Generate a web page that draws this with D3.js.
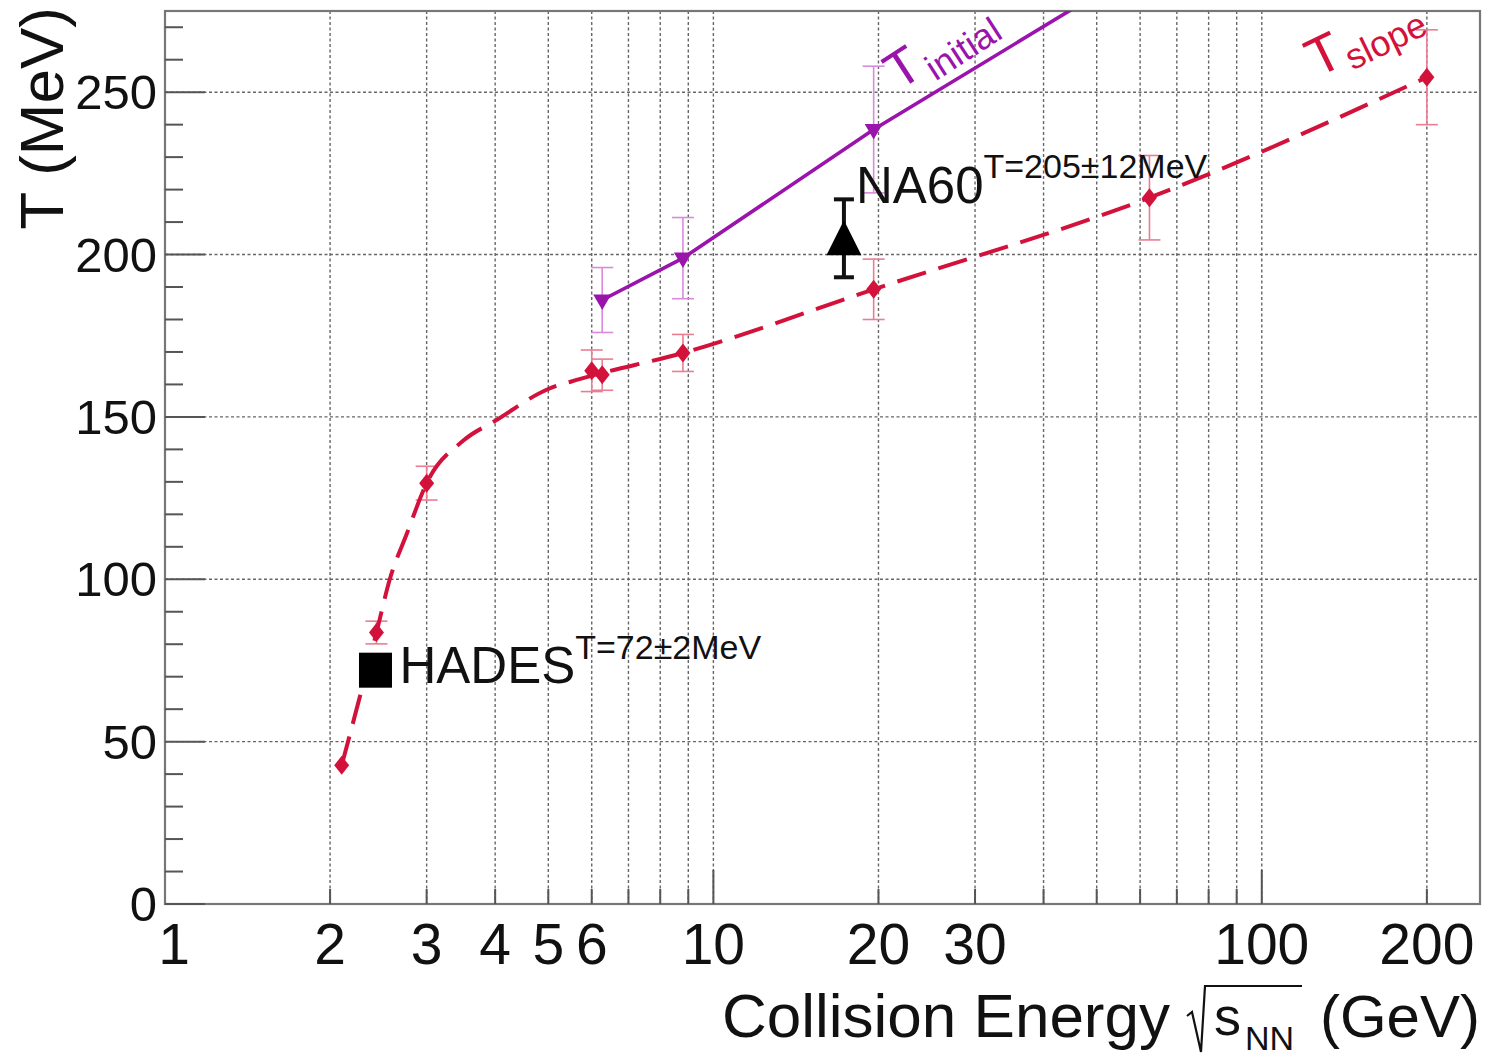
<!DOCTYPE html>
<html>
<head>
<meta charset="utf-8">
<script src="https://cdn.jsdelivr.net/npm/d3@7"></script>
<style>
  body { margin: 0; background: #fff; }
  text { font-family: "Liberation Sans", Arial, Helvetica, sans-serif; }
</style>
</head>
<body>
<svg id="chart" width="1489" height="1056"></svg>
<script>
// ---- data ----
// T_slope measurements (sqrt(s_NN) in GeV, T in MeV)
const slopeEnergy = [2.1, 2.43, 3.0, 6.0, 6.27, 8.8, 19.6, 62.4, 200];
const slopeT      = [42.7, 83.6, 129.6, 164.2, 163.0, 169.7, 189.3, 217.5, 254.6];
const slopeErr    = [0, 3.5, 5.2, 6.4, 4.8, 5.7, 9.3, 13.0, 14.6];

// dashed T_slope trend curve
const slopeCurveEnergy = [2.1, 2.43, 2.57, 2.76, 3.0, 3.5, 4.0, 5.0, 5.72, 8.8, 19.6, 62.4, 200];
const slopeCurveT      = [42.7, 83.6, 100, 114, 129.6, 142.7, 148.8, 158.6, 161.7, 169.7, 189.3, 217.5, 254.6];

// T_initial
const initialEnergy = [6.27, 8.8, 19.6, 62.4];
const initialT      = [186.0, 198.9, 238.5, 290.0];
const initialErr    = [10.0, 12.5, 19.5, 0];

// single experiments
const na60Energy = [17.3];
const na60T      = [205];
const na60Err    = [12];

const hadesEnergy = [2.42];
const hadesT      = [72];
const hadesErr    = [2];

// axes
const xTickLabels = [1, 2, 3, 4, 5, 6, 10, 20, 30, 100, 200];
const xMinorTicks = [2, 3, 4, 5, 6, 7, 8, 9, 20, 30, 40, 50, 60, 70, 80, 90, 200];
const xMajorTicks = [10, 100];
const yTickLabels = [0, 50, 100, 150, 200, 250];

// ---- layout ----
const svg = d3.select("#chart");
const L = 165, R = 1480, T = 11, B = 904;

const x = d3.scaleLog().domain([1, 250]).range([L, R]);
const y = d3.scaleLinear().domain([0, 275]).range([B, T]);

const red = "#d3123c", redErr = "#ea7d92";
const purple = "#9a14ac", purpleErr = "#d98ade";

svg.append("rect").attr("width", 1489).attr("height", 1056).attr("fill", "#fff");

svg.append("defs").append("clipPath").attr("id", "plotClip")
  .append("rect").attr("x", L).attr("y", T).attr("width", R - L).attr("height", B - T);

// ---- grid ----
const grid = svg.append("g").attr("stroke", "#666").attr("stroke-width", 1.4)
  .attr("stroke-dasharray", "3,2.5");
grid.selectAll("line.gx").data(xMinorTicks.concat(xMajorTicks)).join("line")
  .attr("x1", d => x(d)).attr("x2", d => x(d)).attr("y1", T).attr("y2", B);
grid.selectAll("line.gy").data(yTickLabels.filter(v => v > 0)).join("line")
  .attr("x1", L).attr("x2", R).attr("y1", d => y(d)).attr("y2", d => y(d));

// ---- frame ----
svg.append("rect").attr("x", L).attr("y", T).attr("width", R - L).attr("height", B - T)
  .attr("fill", "none").attr("stroke", "#777").attr("stroke-width", 2.2);

// ---- ticks ----
const ticks = svg.append("g").attr("stroke", "#555").attr("stroke-width", 2);
ticks.selectAll("line.ym").data(y.ticks(27)).join("line")
  .attr("x1", L).attr("y1", d => y(d)).attr("y2", d => y(d))
  .attr("x2", d => L + (d % 50 === 0 ? 40 : 18));
ticks.selectAll("line.xm").data(xMinorTicks).join("line")
  .attr("x1", d => x(d)).attr("x2", d => x(d)).attr("y1", B).attr("y2", B - 15);
ticks.selectAll("line.xM").data(xMajorTicks).join("line")
  .attr("x1", d => x(d)).attr("x2", d => x(d)).attr("y1", B).attr("y2", B - 34);

// ---- tick labels ----
svg.append("g").selectAll("text").data(yTickLabels).join("text")
  .attr("x", L - 8).attr("y", d => y(d) + 17)
  .attr("text-anchor", "end").attr("font-size", 49).attr("fill", "#111")
  .text(d => d);
// the first label is nudged right so it stays clear of the y labels
svg.append("g").selectAll("text").data(xTickLabels).join("text")
  .attr("x", d => Math.max(x(d), L + 9)).attr("y", 964)
  .attr("text-anchor", "middle").attr("font-size", 57).attr("fill", "#111")
  .text(d => d);

// ---- axis titles ----
svg.append("text").attr("transform", "translate(63,7) rotate(-90)")
  .attr("text-anchor", "end").attr("font-size", 62).attr("fill", "#111")
  .text("T (MeV)");

const xt = svg.append("g").attr("fill", "#111");
xt.append("text").attr("x", 722).attr("y", 1037).attr("font-size", 62).text("Collision Energy");
xt.append("path").attr("d", "M1187,1016 L1192,1012 L1201,1052 L1205,986 L1302,986")
  .attr("fill", "none").attr("stroke", "#111").attr("stroke-width", 2.2);
xt.append("text").attr("x", 1214).attr("y", 1035).attr("font-size", 54).text("s");
xt.append("text").attr("x", 1245).attr("y", 1050).attr("font-size", 34).text("NN");
xt.append("text").attr("x", 1480).attr("y", 1037).attr("text-anchor", "end")
  .attr("font-size", 60).text("(GeV)");

// ---- data layer ----
const plot = svg.append("g").attr("clip-path", "url(#plotClip)");

function errorBars(g, ex, ey, ee, color, width, cap) {
  const d = ex.map((e, i) => ({ e, t: ey[i], s: ee[i] })).filter(p => p.s > 0);
  const eg = g.append("g").attr("stroke", color).attr("stroke-width", width);
  eg.selectAll("line.v").data(d).join("line")
    .attr("x1", p => x(p.e)).attr("x2", p => x(p.e))
    .attr("y1", p => y(p.t + p.s)).attr("y2", p => y(p.t - p.s));
  eg.selectAll("line.hi").data(d).join("line")
    .attr("x1", p => x(p.e) - cap).attr("x2", p => x(p.e) + cap)
    .attr("y1", p => y(p.t + p.s)).attr("y2", p => y(p.t + p.s));
  eg.selectAll("line.lo").data(d).join("line")
    .attr("x1", p => x(p.e) - cap).attr("x2", p => x(p.e) + cap)
    .attr("y1", p => y(p.t - p.s)).attr("y2", p => y(p.t - p.s));
}

errorBars(plot, slopeEnergy, slopeT, slopeErr, redErr, 1.6, 11);
errorBars(plot, initialEnergy, initialT, initialErr, purpleErr, 1.6, 11);

// T_slope dashed curve
const curve = d3.line().x(d => x(d[0])).y(d => y(d[1])).curve(d3.curveMonotoneX);
plot.append("path")
  .attr("d", curve(slopeCurveEnergy.map((e, i) => [e, slopeCurveT[i]])))
  .attr("fill", "none").attr("stroke", red).attr("stroke-width", 4)
  .attr("stroke-dasharray", "30,13");

// T_initial solid line
const straight = d3.line().x(d => x(d[0])).y(d => y(d[1]));
plot.append("path")
  .attr("d", straight(initialEnergy.map((e, i) => [e, initialT[i]])))
  .attr("fill", "none").attr("stroke", purple).attr("stroke-width", 3.6);

// markers
plot.selectAll("path.diamond").data(slopeEnergy.map((e, i) => [e, slopeT[i]])).join("path")
  .attr("transform", d => `translate(${x(d[0])},${y(d[1])})`)
  .attr("d", "M0,-9.5 L7.5,0 L0,9.5 L-7.5,0 Z").attr("fill", red);

plot.selectAll("path.tdown").data(initialEnergy.map((e, i) => [e, initialT[i]])).join("path")
  .attr("transform", d => `translate(${x(d[0])},${y(d[1])})`)
  .attr("d", "M-9,-5.5 L9,-5.5 L0,10 Z").attr("fill", purple);

// NA60
errorBars(plot, na60Energy, na60T, na60Err, "#111", 4, 10);
plot.selectAll("path.na60").data(na60Energy.map((e, i) => [e, na60T[i]])).join("path")
  .attr("transform", d => `translate(${x(d[0])},${y(d[1])})`)
  .attr("d", "M0,-18 L17.5,17 L-17.5,17 Z").attr("fill", "#000");

// HADES
errorBars(plot, hadesEnergy, hadesT, hadesErr, "#111", 3, 8);
plot.selectAll("rect.hades").data(hadesEnergy.map((e, i) => [e, hadesT[i]])).join("rect")
  .attr("x", d => x(d[0]) - 16.5).attr("y", d => y(d[1]) - 17.5)
  .attr("width", 33).attr("height", 35).attr("fill", "#000");

// ---- annotations ----
const hx = x(hadesEnergy[0]), hy = y(hadesT[0]);
const hades = svg.append("text").attr("fill", "#111").attr("x", hx + 24).attr("y", hy + 13);
hades.append("tspan").attr("font-size", 51).text("HADES");
hades.append("tspan").attr("font-size", 34).attr("dy", -24).text("T=72\u00b12MeV");

const nx = x(na60Energy[0]), ny = y(na60T[0]);
const na60 = svg.append("text").attr("fill", "#111").attr("x", nx + 12).attr("y", ny - 35);
na60.append("tspan").attr("font-size", 51).text("NA60");
na60.append("tspan").attr("font-size", 34).attr("dy", -25).text("T=205\u00b112MeV");

const ti = svg.append("text").attr("fill", purple).attr("transform", "translate(899,91) rotate(-33)");
ti.append("tspan").attr("font-size", 52).text("T");
ti.append("tspan").attr("font-size", 36).attr("dx", 4).attr("dy", 12).text("initial");

const ts = svg.append("text").attr("fill", red).attr("transform", "translate(1317,78) rotate(-26)");
ts.append("tspan").attr("font-size", 54).text("T");
ts.append("tspan").attr("font-size", 36).attr("dx", 2).attr("dy", 9).text("slope");
</script>
</body>
</html>
